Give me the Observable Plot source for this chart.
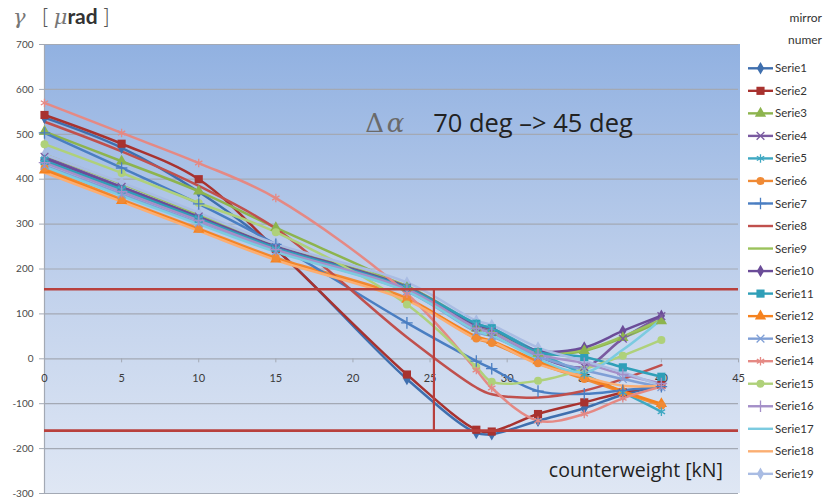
<!DOCTYPE html>
<html>
<head>
<meta charset="utf-8">
<script src="https://cdn.jsdelivr.net/npm/d3@7"></script>
<script src="https://cdn.jsdelivr.net/npm/@observablehq/plot@0.6"></script>
<style>
  body { margin: 0; background: #fff; }
  #chart { position: relative; width: 830px; height: 501px; }
  #chart svg { display: block; }
</style>
</head>
<body>
<div id="chart"></div>
<script>
// Counterweight load steps [kN]
const counterweight = [0, 5, 10, 15, 23.5, 28, 29, 32, 35, 37.5, 40];

// Mirror tilt γ [µrad] per mirror, one value per load step
const serie1  = [537, 470, 372, 244, -45, -165, -168, -138, -110, -80, -60];
const serie2  = [543, 479, 400, 245, -35, -158, -162, -123, -97, -75, -58];
const serie3  = [506, 440, 373, 292, 158, 68, 58, 12, 18, 47, 84];
const serie4  = [450, 383, 317, 248, 158, 70, 60, 5, -18, 45, 95];
const serie5  = [445, 378, 312, 245, 160, 78, 68, 15, -35, -75, -118];
const serie6  = [425, 355, 290, 225, 135, 45, 35, -10, -45, -75, -104];
const serie7  = [503, 425, 345, 255, 80, -5, -22, -72, -78, -70, -62];
const serie8  = [528, 462, 385, 290, 48, -64, -79, -86, -71, -45, -14];
const serie9  = [455, 390, 322, 252, 162, 75, 65, 15, 20, 50, 88];
const serie10 = [447, 382, 316, 250, 160, 75, 66, 18, 25, 62, 96];
const serie11 = [440, 377, 312, 247, 158, 78, 68, 15, 4, -19, -40];
const serie12 = [420, 352, 288, 222, 132, 50, 40, -5, -40, -72, -100];
const serie13 = [430, 366, 302, 240, 150, 60, 50, 5, -25, -45, -63];
const serie14 = [570, 503, 436, 358, 145, -25, -65, -138, -123, -88, -62];
const serie15 = [478, 414, 347, 282, 121, -18, -51, -49, -23, 7, 42];
const serie16 = [437, 372, 308, 243, 155, 68, 58, 10, -10, -35, -55];
const serie17 = [428, 363, 300, 238, 150, 62, 52, 0, -30, 20, 88];
const serie18 = [415, 350, 285, 220, 130, 45, 38, -12, -40, -60, -60];
const serie19 = [455, 392, 325, 256, 170, 85, 75, 25, -5, -30, -60];

const seriesNames = ["Serie1", "Serie2", "Serie3", "Serie4", "Serie5", "Serie6", "Serie7",
  "Serie8", "Serie9", "Serie10", "Serie11", "Serie12", "Serie13", "Serie14", "Serie15",
  "Serie16", "Serie17", "Serie18", "Serie19"];
const seriesValues = [serie1, serie2, serie3, serie4, serie5, serie6, serie7, serie8, serie9,
  serie10, serie11, serie12, serie13, serie14, serie15, serie16, serie17, serie18, serie19];
const seriesColors = ["#3f6fae", "#a8322f", "#8db44e", "#7a5aa0", "#3fa8c2", "#f08a35",
  "#4a7ec2", "#c0504d", "#9bc25c", "#6b4c98", "#2f9fb8", "#f5821f",
  "#7f9fd6", "#e58984", "#afd17a", "#a48fc8", "#7ccbe0", "#fbae72", "#a9bce3"];
const seriesSymbols = ["diamond", "square", "triangle", "times", "asterisk", "circle", "plus",
  null, null, "diamond", "square", "triangle", "times", "asterisk", "circle", "plus",
  null, null, "diamond"];

// Axes
const yTicks = [-300, -200, -100, 0, 100, 200, 300, 400, 500, 600, 700];
const xTicks = [0, 5, 10, 15, 20, 25, 30, 35, 40, 45];

// Tolerance band and the load where it is left
const limitLevels = [155, -160];
const limitLoad = 25.25;

const rows = seriesValues.flatMap((vals, i) =>
  vals.map((v, j) => ({series: seriesNames[i], x: counterweight[j], y: v, symbol: seriesSymbols[i]})));

const filledSymbols = ["diamond", "square", "triangle", "circle"];
const strokedSymbols = ["times", "asterisk", "plus"];
const symbolRadius = {diamond: 3.8, square: 4.6, triangle: 4.2, circle: 4, times: 3.6, asterisk: 4, plus: 3.8};

const axisFont = "Lato, 'Open Sans', sans-serif";
const labelFont = "'Open Sans', Lato, sans-serif";

const chart = Plot.plot({
  width: 830,
  height: 501,
  marginLeft: 44,
  marginRight: 92,
  marginTop: 44,
  marginBottom: 8,
  style: {background: "transparent", fontFamily: axisFont, overflow: "visible"},
  x: {domain: [0, 45], axis: null},
  y: {domain: [-300, 700], axis: null},
  color: {domain: seriesNames, range: seriesColors},
  marks: [
    // gridlines and y axis
    Plot.ruleY(yTicks, {stroke: "#a3a9b4", strokeWidth: 1.2}),
    Plot.ruleX([0], {stroke: "#a3a9b4", strokeWidth: 1.2}),
    Plot.ruleY(yTicks, {x1: -0.32, x2: 0, stroke: "#a3a9b4"}),
    Plot.text(yTicks, {x: 0, y: d => d, dx: -11, textAnchor: "end", fill: "#4a4a4a", fontSize: 10}),
    // x axis drawn along γ = 0
    Plot.ruleX(xTicks, {y1: 0, y2: -9, stroke: "#a3a9b4"}),
    Plot.text(xTicks, {x: d => d, y: 0, dy: 20, fill: "#3a3a3a", fontSize: 11}),
    // series
    Plot.line(rows, {x: "x", y: "y", z: "series", stroke: "series", strokeWidth: 2.5, curve: "catmull-rom"}),
    ...filledSymbols.map(s => Plot.dot(rows.filter(d => d.symbol === s),
      {x: "x", y: "y", fill: "series", symbol: s, r: symbolRadius[s]})),
    ...strokedSymbols.map(s => Plot.dot(rows.filter(d => d.symbol === s),
      {x: "x", y: "y", stroke: "series", symbol: s, r: symbolRadius[s], strokeWidth: 1.3})),
    // tolerance band
    Plot.ruleY(limitLevels, {stroke: "#b8403d", strokeWidth: 2.6}),
    Plot.ruleX([limitLoad], {y1: limitLevels[1], y2: limitLevels[0], stroke: "#b8403d", strokeWidth: 2.2}),
    // annotations
    Plot.text(["Δ"], {x: 20.8, y: 524, textAnchor: "start", fontSize: 26, fill: "#6a6a6a", fontFamily: "'DejaVu Serif', serif"}),
    Plot.text(["α"], {x: 22.2, y: 524, textAnchor: "start", fontSize: 26, fill: "#6a6a6a", fontStyle: "italic", fontFamily: "'DejaVu Serif', serif"}),
    Plot.text(["70 deg –> 45 deg"], {x: 25.2, y: 524, textAnchor: "start", fontSize: 25.5, fill: "#222", fontFamily: labelFont}),
    Plot.text(["counterweight [kN]"], {x: 32.7, y: -249, textAnchor: "start", fontSize: 19.5, fill: "#222", fontFamily: labelFont})
  ]
});

// plot-area background gradient
const svg = d3.select(chart);
const [x0, x1] = chart.scale("x").range;
const [yb, yt] = chart.scale("y").range;
const defs = svg.insert("defs", ":first-child");
const grad = defs.append("linearGradient").attr("id", "plotBg").attr("x1", 0).attr("y1", 0).attr("x2", 0).attr("y2", 1);
grad.append("stop").attr("offset", "0%").attr("stop-color", "#91b1e1");
grad.append("stop").attr("offset", "55%").attr("stop-color", "#c2d2ec");
grad.append("stop").attr("offset", "100%").attr("stop-color", "#dfe7f4");
svg.insert("rect", "defs + *")
  .attr("x", x0).attr("y", Math.min(yt, yb))
  .attr("width", x1 - x0 + 2).attr("height", Math.abs(yb - yt))
  .attr("fill", "url(#plotBg)");

// y-axis title
const title = svg.append("text").attr("x", 13).attr("y", 24).attr("text-anchor", "start")
  .attr("font-size", 21).attr("fill", "#333");
title.append("tspan").attr("font-family", "'DejaVu Serif', serif").attr("font-style", "italic").attr("fill", "#777").text("γ");
title.append("tspan").attr("dx", 16).attr("font-family", "'DejaVu Sans', sans-serif").attr("font-weight", 300).attr("fill", "#555").text("[");
title.append("tspan").attr("dx", 4).attr("font-family", "'DejaVu Serif', serif").attr("font-style", "italic").attr("fill", "#777").text("μ");
title.append("tspan").attr("font-family", axisFont).attr("font-weight", 700).attr("fill", "#333").text("rad");
title.append("tspan").attr("dx", 4).attr("font-family", "'DejaVu Sans', sans-serif").attr("font-weight", 300).attr("fill", "#555").text("]");

// legend
const legend = svg.append("g").attr("font-family", axisFont).attr("font-size", 11.5)
  .attr("fill", "#333").attr("text-anchor", "start");
legend.append("text").attr("x", 822).attr("y", 22).attr("text-anchor", "end").attr("font-size", 12).text("mirror");
legend.append("text").attr("x", 822).attr("y", 44).attr("text-anchor", "end").attr("font-size", 12).text("numer");
const d3Symbols = {diamond: d3.symbolDiamond, square: d3.symbolSquare, triangle: d3.symbolTriangle,
  circle: d3.symbolCircle, times: d3.symbolTimes, asterisk: d3.symbolAsterisk, plus: d3.symbolPlus};
seriesNames.forEach((name, i) => {
  const cy = 68.3 + i * 22.53;
  const g = legend.append("g");
  g.append("line").attr("x1", 748).attr("x2", 773).attr("y1", cy).attr("y2", cy)
    .attr("stroke", seriesColors[i]).attr("stroke-width", 2.4);
  const s = seriesSymbols[i];
  if (s) {
    const r = symbolRadius[s];
    const path = d3.symbol(d3Symbols[s], Math.PI * r * r)();
    const p = g.append("path").attr("d", path).attr("transform", `translate(760.5,${cy})`);
    if (filledSymbols.includes(s)) p.attr("fill", seriesColors[i]);
    else p.attr("fill", "none").attr("stroke", seriesColors[i]).attr("stroke-width", 1.3);
  }
  g.append("text").attr("x", 775).attr("y", cy).attr("dy", "0.35em").attr("text-anchor", "start").text(name);
});

document.getElementById("chart").appendChild(chart);
</script>
</body>
</html>
